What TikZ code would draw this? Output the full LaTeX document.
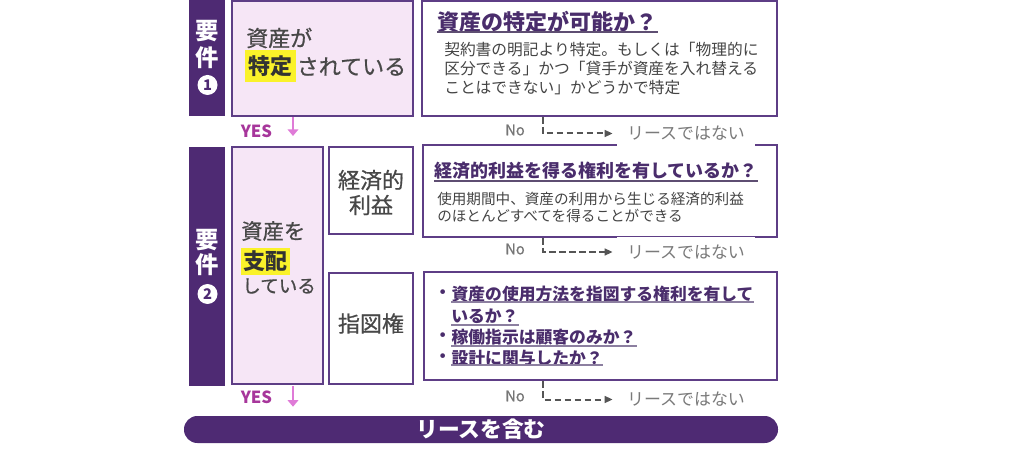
\documentclass[tikz,border=0pt]{standalone}
\usepackage{fontspec}
\setmainfont{Noto Sans CJK JP}
\newfontfamily\medfont{Noto Sans CJK JP}[FakeBold=0.7]
\usetikzlibrary{fit,arrows.meta}
\definecolor{sidec}{HTML}{4E2A73}
\definecolor{boxc}{HTML}{5E3E86}
\definecolor{pinkc}{HTML}{F6E6F6}
\definecolor{headc}{HTML}{4A2D6C}
\definecolor{ulc}{HTML}{5E4E72}
\definecolor{ulc2}{HTML}{8C7FA0}
\definecolor{bodyc}{HTML}{444444}
\definecolor{lblc}{HTML}{484848}
\definecolor{grayc}{HTML}{7A7A7A}
\definecolor{noc}{HTML}{767676}
\definecolor{dashc}{HTML}{555555}
\definecolor{yesc}{HTML}{A7369B}
\definecolor{pinkarr}{HTML}{DF7BD7}
\definecolor{hlc}{HTML}{FAF22A}
\tikzset{
  pbox/.style={draw=boxc, line width=1.5pt, fill=pinkc, inner sep=0pt},
  wbox/.style={draw=boxc, line width=1.5pt, fill=white, inner sep=0pt},
  sbar/.style={fill=sidec, inner sep=0pt},
  rbar/.style={fill=sidec, inner sep=0pt, rounded corners=10pt},
  sidetxt/.style={inner sep=0pt, text=white, font=\bfseries\fontsize{17.5}{17.5}\selectfont},
  numcirc/.style={circle, fill=white, inner sep=0pt, minimum size=15pt, text=sidec, font=\bfseries\fontsize{11}{11}\selectfont},
  txt/.style={inner sep=0pt, anchor=west},
  hlbox/.style={fill=hlc, inner sep=0pt, text=black!80},
  ul/.style={draw=ulc, line width=1.5pt},
  ultwo/.style={draw=ulc2, line width=1.2pt},
  notxt/.style={inner sep=0pt, text=noc, font=\medfont\fontsize{11}{11}\selectfont},
  lbl/.style={fill=white, inner sep=0pt, minimum width=103.5pt, minimum height=21.75pt, text=grayc, font=\fontsize{12.7}{12.7}\selectfont},
  noline/.style={draw=dashc, line width=1.5pt, dash pattern=on 5pt off 2.5pt, -{Triangle[length=6pt,width=5pt]}, shorten >=3pt},
  yestxt/.style={inner sep=0pt, text=yesc, font=\bfseries\fontsize{12.5}{12.5}\selectfont},
  yarr/.style={draw=pinkarr, line width=2.2pt, -{Triangle[length=5pt,width=8pt]}},
}
\begin{document}
\begin{tikzpicture}[x=0.75pt,y=-0.75pt]
\useasboundingbox (0,0) rectangle (1016,459);
\coordinate (ax) at (293,0);
\coordinate (dx) at (543,0);
% side bars
\node[sbar, fit={(189,0)(225,116)}] (s1) {};
\node[sbar, fit={(189,147)(225,386)}] (s2) {};
\node[sidetxt] (s1a) at (207.5,31.5) {要};
\node[sidetxt] (s1b) at (207.5,58) {件};
\node[numcirc] (s1c) at (207.5,85) {1};
\node[sidetxt] (s2a) at (207.5,240) {要};
\node[sidetxt] (s2b) at (207.5,265) {件};
\node[numcirc] (s2c) at (207.5,294) {2};
% boxes
\node[pbox, fit={(232,1)(413,116)}] (r1) {};
\node[wbox, fit={(422,1)(777,116)}] (q1) {};
\node[pbox, fit={(232,147)(323,384)}] (r2) {};
\node[wbox, fit={(329,147)(413,234)}] (econ) {};
\node[wbox, fit={(329,273)(413,384)}] (ctrl) {};
\node[wbox, fit={(423,145)(777,237)}] (q2) {};
\node[wbox, fit={(424,272)(777,380)}] (q3) {};
\node[rbar, fit={(184,416)(778,443)}] (res) {};
\node[inner sep=0pt, text=white, font=\bfseries\fontsize{16.3}{16.3}\selectfont] (rest) at (res.center) {リースを含む};
% requirement 1 left text
\node[txt, text=lblc, font=\medfont\fontsize{16.5}{16.5}\selectfont] (r1a) at (246,38) {資産が};
\node[hlbox, anchor=west, minimum width=38.25pt, minimum height=24pt, font=\bfseries\fontsize{16.5}{16.5}\selectfont] (r1hl) at (245,66.5) {特定};
\node[txt, text=lblc, font=\medfont\fontsize{16.5}{16.5}\selectfont] (r1b) at (r1hl.east) {されている};
% requirement 2 left text
\node[txt, text=lblc, font=\medfont\fontsize{16}{16}\selectfont] (r2a) at (241,231) {資産を};
\node[hlbox, minimum width=36.75pt, minimum height=20.25pt, font=\bfseries\fontsize{16.5}{16.5}\selectfont] (r2hl) at (265.5,261.5) {支配};
\node[txt, text=lblc, font=\medfont\fontsize{13.9}{13.9}\selectfont] (r2b) at (242,286) {している};
\node[inner sep=0pt, align=center, text=lblc, font=\medfont\fontsize{16.5}{18.75}\selectfont] (econt) at (371,192.5) {経済的\\利益};
\node[inner sep=0pt, text=lblc, font=\medfont\fontsize{16.5}{16.5}\selectfont] (ctrlt) at (371,323.5) {指図権};
% question 1
\node[txt, text=headc, font=\bfseries\fontsize{16.5}{16.5}\selectfont] (q1t) at (437,21.5) {資産の特定が可能か？};
\coordinate (u1) at (0,32);
\draw[ul] (q1t.west |- u1) -- (q1t.east |- u1);
\node[txt, align=left, text=bodyc, font=\fontsize{11.8}{14.25}\selectfont] (q1b) at (444,69) {契約書の明記より特定。もしくは「物理的に\\区分できる」かつ「貸手が資産を入れ替える\\ことはできない」かどうかで特定};
% question 2
\node[txt, text=headc, font=\bfseries\fontsize{13.5}{13.5}\selectfont] (q2t) at (434,170.5) {経済的利益を得る権利を有しているか？};
\coordinate (u2) at (0,181);
\draw[ul] (q2t.west |- u2) -- (q2t.east |- u2);
\node[txt, align=left, text=bodyc, font=\fontsize{10.95}{12.75}\selectfont] (q2b) at (437,207.5) {使用期間中、資産の利用から生じる経済的利益\\のほとんどすべてを得ることができる};
% question 3
\node[txt, text=headc, font=\bfseries\fontsize{12.6}{12.6}\selectfont] (b1) at (434,294) {・};
\node[txt, text=headc, font=\bfseries\fontsize{12.6}{12.6}\selectfont] (l1) at (b1.east) {資産の使用方法を指図する権利を有して};
\node[txt, text=headc, font=\bfseries\fontsize{12.6}{12.6}\selectfont] (l2) at (451,316) {いるか？};
\node[txt, text=headc, font=\bfseries\fontsize{12.6}{12.6}\selectfont] (b3) at (434,337.5) {・};
\node[txt, text=headc, font=\bfseries\fontsize{12.6}{12.6}\selectfont] (l3) at (b3.east) {稼働指示は顧客のみか？};
\node[txt, text=headc, font=\bfseries\fontsize{12.6}{12.6}\selectfont] (b4) at (434,358) {・};
\node[txt, text=headc, font=\bfseries\fontsize{12.6}{12.6}\selectfont] (l4) at (b4.east) {設計に関与したか？};
\coordinate (u31) at (0,302);
\coordinate (u32) at (0,325);
\coordinate (u33) at (0,346);
\coordinate (u34) at (0,365);
\draw[ultwo] (l1.west |- u31) -- (l1.east |- u31);
\draw[ultwo] (l2.west |- u32) -- (l2.east |- u32);
\draw[ultwo] (l3.west |- u33) -- (l3.east |- u33);
\draw[ultwo] (l4.west |- u34) -- (l4.east |- u34);
% No branches
\node[notxt] (no1) at (515,130) {No};
\node[notxt] (no2) at (515,249) {No};
\node[notxt] (no3) at (515,396) {No};
\node[lbl] (nl1) at (686,133.5) {リースではない};
\node[lbl] (nl2) at (686,252) {リースではない};
\node[lbl] (nl3) at (686,399.5) {リースではない};
\draw[noline] (q1.south -| dx) |- (nl1.west);
\draw[noline] (q2.south -| dx) |- (nl2.west);
\draw[noline] (q3.south -| dx) |- (nl3.west);
% YES branches
\node[yestxt] (yes1) at (256.5,131.5) {YES};
\node[yestxt] (yes2) at (256.5,397.5) {YES};
\draw[yarr, shorten >=7.5pt] (r1.south -| ax) -- (r2.north -| ax);
\draw[yarr, shorten >=6.75pt] (s2.south -| ax) -- (res.north -| ax);
\end{tikzpicture}
\end{document}
